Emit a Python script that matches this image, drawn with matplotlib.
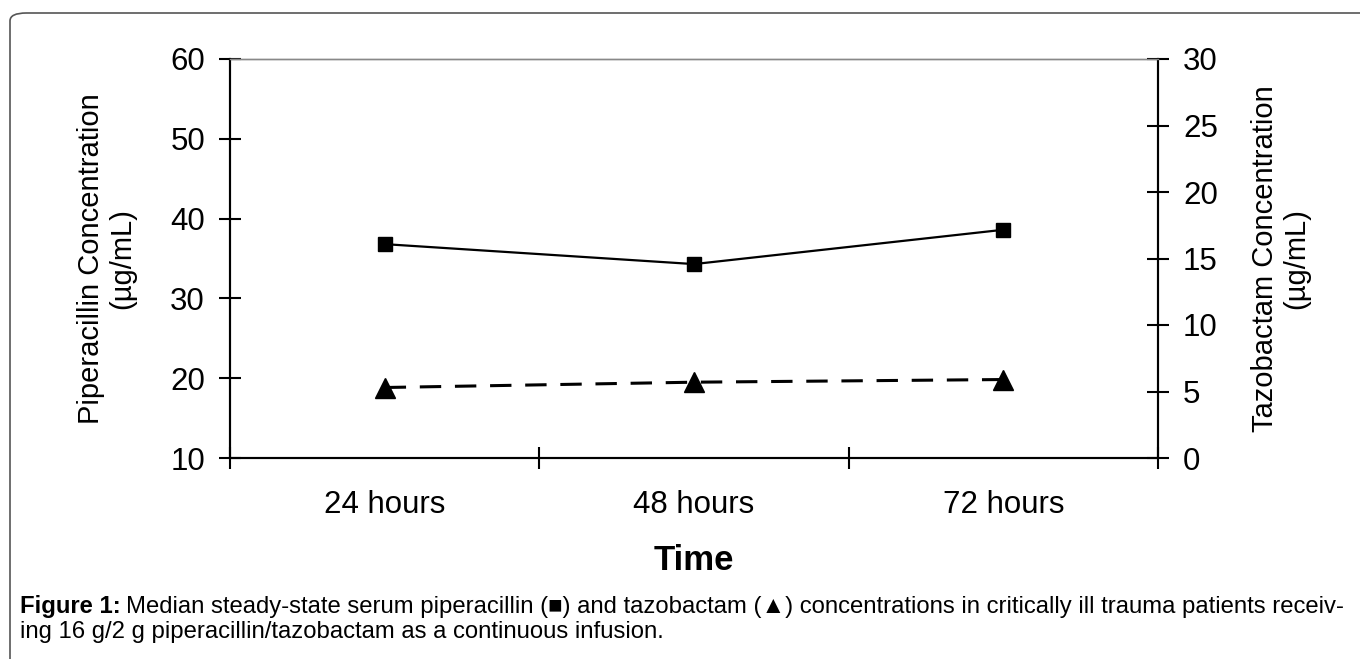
import numpy as np
import matplotlib
matplotlib.use('Agg')
import matplotlib.pyplot as plt
from matplotlib.patches import FancyBboxPatch

plt.rcParams['font.family'] = ['Liberation Sans', 'DejaVu Sans']

# data
times = ['24 hours', '48 hours', '72 hours']
pip = [36.8, 34.3, 38.6]     # left axis, ug/mL
tazo = [5.3, 5.7, 5.9]       # right axis, ug/mL
left_ticks = [10, 20, 30, 40, 50, 60]
right_ticks = [0, 5, 10, 15, 20, 25, 30]

fig = plt.figure(figsize=(13.6, 6.59), dpi=100)
ax = fig.add_axes([230/1360, 1-458/659, (1158-230)/1360, (458-59)/659])
ax2 = ax.twinx()

x = np.arange(len(times))
ax.plot(x, pip, color='black', lw=1.6, marker='s', ms=10, zorder=3)
ax2.plot(x, tazo, color='black', lw=2.2, ls=(0, (7, 4.5)), marker='^', ms=15, zorder=3)

ax.set_xlim(-0.5, 2.5)
ax.set_ylim(10, 60)
ax2.set_ylim(0, 30)
ax.set_yticks(left_ticks)
ax2.set_yticks(right_ticks)

ax.set_xticks([-0.5, 0.5, 1.5, 2.5])
ax.set_xticklabels([])
ax.set_xticks(x, minor=True)
ax.set_xticklabels(times, minor=True)
ax.tick_params(axis='x', which='major', direction='inout', length=16, width=1.5)
ax.tick_params(axis='x', which='minor', length=0, pad=23, labelsize=22.5)
ax.tick_params(axis='y', direction='inout', length=16, width=1.5, pad=10, labelsize=22.5)
ax2.tick_params(axis='y', direction='inout', length=16, width=1.5, pad=10, labelsize=22.5)

for a in (ax, ax2):
    for s in ('left', 'right', 'bottom'):
        a.spines[s].set_linewidth(1.5)
    a.spines['top'].set_color('#888888')
    a.spines['top'].set_linewidth(1)

ax.set_ylabel('Piperacillin Concentration\n(µg/mL)', fontsize=21, linespacing=1.15,
              va='center', ha='center')
ax.yaxis.set_label_coords((107 - 230) / 928, 0.5)
ax2.set_ylabel('Tazobactam Concentration\n(µg/mL)', fontsize=21, linespacing=1.15,
               rotation=90, va='center', ha='center')
ax2.yaxis.set_label_coords((1281 - 230) / 928, 0.5)
ax.set_xlabel('Time', fontsize=25, fontweight='bold', labelpad=17)

# frame around figure + caption
frame = FancyBboxPatch((10/1360, -0.05), 1.2, 1.05 - 13/659, boxstyle='round,pad=0,rounding_size=0.012',
                       transform=fig.transFigure, fill=False, ec='#555555', lw=1.2)
fig.patches.append(frame)

cap_size = 17.2
t1 = fig.text(20/1360, 1-607/659, 'Figure 1:', fontsize=cap_size, fontweight='bold', va='center')
fig.canvas.draw()
bb = t1.get_window_extent()
fig.text((bb.x1 + 5) / 1360, 1-607/659,
         'Median steady-state serum piperacillin (\u25a0) and tazobactam (\u25b2) concentrations '
         'in critically ill trauma patients receiv-', fontsize=cap_size, va='center')
fig.text(20/1360, 1-632/659, 'ing 16 g/2 g piperacillin/tazobactam as a continuous infusion.',
         fontsize=cap_size, va='center')

fig.savefig('out.png', dpi=100)
